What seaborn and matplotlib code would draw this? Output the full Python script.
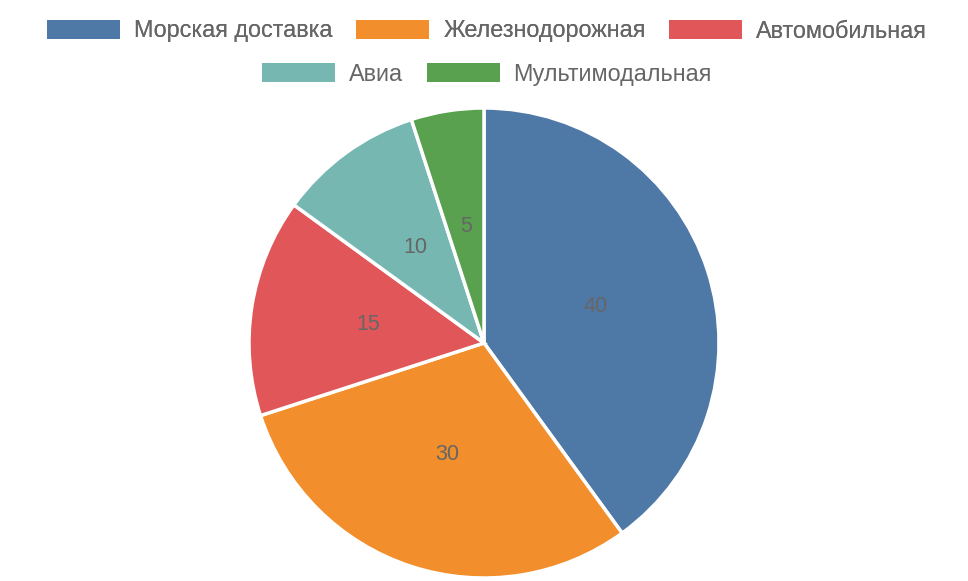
import matplotlib
matplotlib.use("Agg")
import matplotlib.pyplot as plt
import matplotlib.patches as mpatches
import seaborn as sns

categories = ["Морская доставка", "Железнодорожная", "Автомобильная", "Авиа", "Мультимодальная"]
values = [40, 30, 15, 10, 5]
colors = ["#4e79a7", "#f28e2b", "#e15759", "#76b7b2", "#59a14f"]

sns.set_theme(style="white")
plt.rcParams["font.family"] = ["Liberation Sans", "DejaVu Sans"]

fig = plt.figure(figsize=(9.68, 5.81), dpi=100)
# pie centre ~ (484, 343), radius ~ 235 px
ax = fig.add_axes([(484 - 235) / 968, (581 - 343 - 235) / 581, 470 / 968, 470 / 581])
palette = sns.color_palette(colors)

wedges, texts = ax.pie(
    values,
    labels=[str(v) for v in values],
    colors=palette,
    startangle=90,
    counterclock=False,
    labeldistance=0.5,
    wedgeprops=dict(edgecolor="white", linewidth=2.5),
    textprops=dict(color="#666666", fontsize=15.5, ha="center", va="center"),
    radius=1.0,
)
ax.set_xlim(-1, 1)
ax.set_ylim(-1, 1)
ax.set_aspect("equal")

handles = [mpatches.Patch(facecolor=c, edgecolor="none") for c in palette]
leg_kw = dict(frameon=False, fontsize=16.8, handlelength=3.13, handleheight=0.86,
              handletextpad=0.6, columnspacing=1.0, labelcolor="#666666")
leg1 = fig.legend(handles[:3], categories[:3], ncol=3, loc="center",
                  bbox_to_anchor=(487 / 968, 1 - 31 / 581), **leg_kw)
fig.add_artist(leg1)
fig.legend(handles[3:], categories[3:], ncol=2, loc="center",
           bbox_to_anchor=(487 / 968, 1 - 74 / 581), **leg_kw)

fig.savefig("out.png", dpi=100)
